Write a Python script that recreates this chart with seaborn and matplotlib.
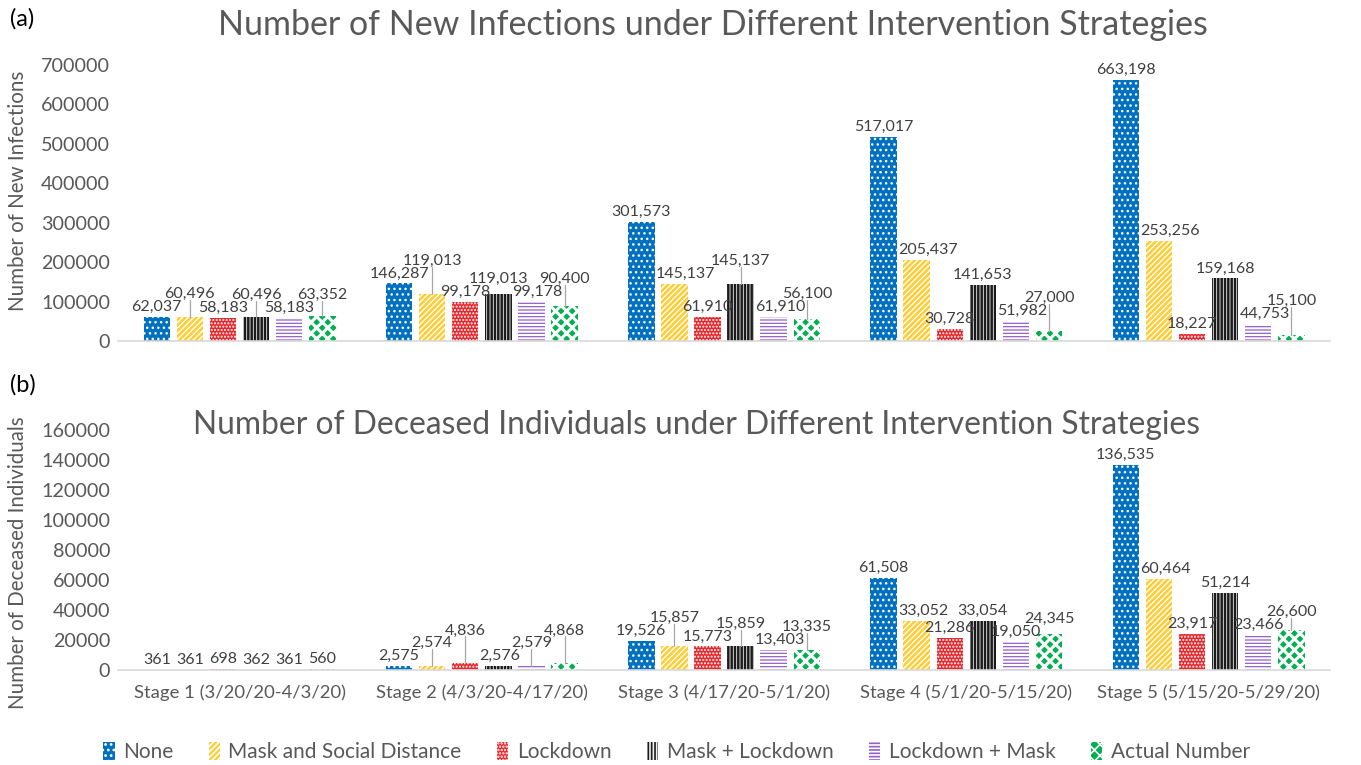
import matplotlib
matplotlib.use("Agg")
import matplotlib.pyplot as plt
import seaborn as sns
import pandas as pd
from matplotlib.patches import Patch

stages = ["Stage 1 (3/20/20-4/3/20)", "Stage 2 (4/3/20-4/17/20)", "Stage 3 (4/17/20-5/1/20)",
          "Stage 4 (5/1/20-5/15/20)", "Stage 5 (5/15/20-5/29/20)"]
strategies = ["None", "Mask and Social Distance", "Lockdown", "Mask + Lockdown",
              "Lockdown + Mask", "Actual Number"]

inf_none = [62037, 146287, 301573, 517017, 663198]
inf_mask_sd = [60496, 119013, 145137, 205437, 253256]
inf_lockdown = [58183, 99178, 61910, 30728, 18227]
inf_mask_lock = [60496, 119013, 145137, 141653, 159168]
inf_lock_mask = [58183, 99178, 61910, 51982, 44753]
inf_actual = [63352, 90400, 56100, 27000, 15100]

dec_none = [361, 2575, 19526, 61508, 136535]
dec_mask_sd = [361, 2574, 15857, 33052, 60464]
dec_lockdown = [698, 4836, 15773, 21286, 23917]
dec_mask_lock = [362, 2576, 15859, 33054, 51214]
dec_lock_mask = [361, 2579, 13403, 19050, 23466]
dec_actual = [560, 4868, 13335, 24345, 26600]

colors = ["#0070C0", "#FFCC33", "#E8262B", "#F2F2F2", "#9460C8", "#00B050"]
hatches = ["...", "//////", ".....", "|||||", "-----", "xxx"]
hatch_cols = ["white", "white", "white", "#1A1A1A", "white", "white"]
hatch_lw = [1.0, 1.0, 1.0, 1.8, 1.5, 2.2]
legend_face = ["#0070C0", "#FFCC33", "#E8262B", "#F2F2F2", "#9460C8", "#00B050"]

sns.set_theme(style="white")
plt.rcParams["font.family"] = ["Lato", "DejaVu Sans"]
plt.rcParams["hatch.linewidth"] = 1.2

TXT = "#595959"
LBL = "#404040"
LFS = 11.5


def make_df(series):
    rows = []
    for strat, vals in zip(strategies, series):
        for st, v in zip(stages, vals):
            rows.append({"stage": st, "strategy": strat, "value": v})
    return pd.DataFrame(rows)


def style_patch(p, i):
    p.set_hatch(hatches[i])
    p.set_edgecolor(hatch_cols[i])
    p.set_linewidth(0)
    if hasattr(p, "set_hatch_linewidth"):
        p.set_hatch_linewidth(hatch_lw[i])


fig = plt.figure(figsize=(13.61, 7.65), dpi=100)
ax1 = fig.add_axes([0.087, 0.554, 0.89, 0.361])
ax2 = fig.add_axes([0.087, 0.124, 0.89, 0.314])

panels = [
    (ax1, make_df([inf_none, inf_mask_sd, inf_lockdown, inf_mask_lock, inf_lock_mask, inf_actual]),
     700000, 100000),
    (ax2, make_df([dec_none, dec_mask_sd, dec_lockdown, dec_mask_lock, dec_lock_mask, dec_actual]),
     160000, 20000),
]

renderer = fig.canvas.get_renderer()


def overlaps(a, b):
    return a[0] < b[1] and b[0] < a[1] and a[2] < b[3] and b[2] < a[3]


for ax, df, ymax, step in panels:
    sns.barplot(data=df, x="stage", y="value", hue="strategy", hue_order=strategies,
                palette=colors, width=0.82, gap=0.2, errorbar=None, legend=False,
                saturation=1, ax=ax)
    ax.set_xlim(-0.5, 4.5)
    ax.set_ylim(0, ymax)
    ax.set_yticks(range(0, ymax + 1, step))
    ax.tick_params(axis="y", labelsize=14.2, colors=TXT, length=0, pad=6)
    ax.tick_params(axis="x", labelsize=13.3, colors=TXT, length=0, pad=10)
    for s in ["top", "right", "left"]:
        ax.spines[s].set_visible(False)
    ax.spines["bottom"].set_color("#D9D9D9")
    ax.spines["bottom"].set_linewidth(1.2)
    ax.set_xlabel("")
    ax.set_ylabel("")
    for i, cont in enumerate(ax.containers):
        for bar in cont:
            style_patch(bar, i)

    inv = ax.transData.inverted()
    n = len(ax.containers)
    for j in range(len(stages)):
        bars = [cont[j] for cont in ax.containers]
        rects = [b.get_window_extent(renderer) for b in bars]
        placed = []
        for i, bar in enumerate(bars):
            v = bar.get_height()
            s = f"{v:,.0f}"
            t = ax.text(0, 0, s, fontsize=LFS, color=LBL)
            bb = t.get_window_extent(renderer)
            t.remove()
            w, h = bb.width, bb.height * 0.85
            r = rects[i]
            cx = (r.x0 + r.x1) / 2
            bar_top = r.y1
            base = bar_top + 3
            x0 = cx - w / 2
            dx = 0
            lb = i > 0 and rects[i - 1].y1 > base and x0 < rects[i - 1].x1
            rb = i < n - 1 and rects[i + 1].y1 > base and x0 + w > rects[i + 1].x0
            if lb and not rb:
                dx = rects[i - 1].x1 + 1 - x0
            elif rb and not lb:
                dx = rects[i + 1].x0 - 1 - (x0 + w)
            box = [x0 + dx, x0 + dx + w, base, base + h]
            for _ in range(10):
                hits = [p for p in placed if overlaps(box, p)]
                if not hits:
                    break
                nb = max(p[3] for p in hits) + 1
                box = [x0, x0 + w, nb, nb + h]
            placed.append(box)
            lx = (box[0] + box[1]) / 2
            dx_, dy_ = inv.transform((lx, box[2]))
            ax.text(dx_, dy_, s, fontsize=LFS, color=LBL, ha="center", va="bottom")
            if box[2] - base > 6:
                p0 = inv.transform((cx, bar_top))
                p1 = inv.transform((lx, box[2] + 1))
                ax.plot([p0[0], p1[0]], [p0[1], p1[1]], color="#A6A6A6", lw=0.9)

ax1.set_xticklabels([])

fig.text(0.013, 0.750, "Number of New Infections", rotation=90, ha="center", va="center",
         fontsize=14.8, color=TXT)
fig.text(0.013, 0.264, "Number of Deceased Individuals", rotation=90, ha="center", va="center",
         fontsize=14.8, color=TXT)

fig.text(0.524, 0.967, "Number of New Infections under Different Intervention Strategies",
         ha="center", va="center", fontsize=24.5, color=TXT)
fig.text(0.512, 0.444, "Number of Deceased Individuals under Different Intervention Strategies",
         ha="center", va="center", fontsize=22.9, color=TXT)
fig.text(0.007, 0.976, "(a)", fontsize=17, color="black", va="center")
fig.text(0.007, 0.497, "(b)", fontsize=17, color="black", va="center")

handles = []
for i, (c, s) in enumerate(zip(legend_face, strategies)):
    p = Patch(facecolor=c, label=s)
    style_patch(p, i)
    handles.append(p)
fig.legend(handles=handles, loc="center", bbox_to_anchor=(0.497, 0.017), ncol=6, frameon=False,
           fontsize=15, handlelength=0.55, handleheight=1.0, handletextpad=0.4, columnspacing=1.7,
           labelcolor=TXT)

fig.savefig("out.png", dpi=100)
